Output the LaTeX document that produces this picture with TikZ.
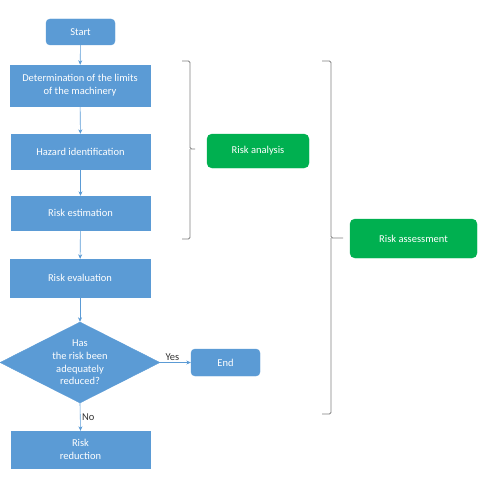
\documentclass[tikz,border=0pt]{standalone}
\usepackage{fontspec}
\setmainfont{Carlito}
\usepackage{tikz}
\usetikzlibrary{shapes.geometric,arrows.meta}

\definecolor{boxblue}{HTML}{5B9BD5}
\definecolor{boxgreen}{HTML}{00B050}
\definecolor{bracegray}{HTML}{7F7F7F}

\tikzset{
  stepbox/.style={draw=boxblue, fill=boxblue, text=white, align=center,
    inner sep=0pt, font=\fontsize{10.5}{12.7}\selectfont},
  endbox/.style={stepbox, rounded corners=4pt},
  groupbox/.style={draw=boxgreen, fill=boxgreen, text=white, align=center,
    rounded corners=5pt, inner sep=0pt, font=\fontsize{10.5}{12.7}\selectfont},
  decision/.style={stepbox, diamond, shape aspect=2},
  flow/.style={draw=boxblue, line width=0.6pt, -{Stealth[length=4.5pt,width=4pt]}},
  bracket/.style={draw=bracegray, line width=0.8pt, rounded corners=1.5pt},
  answer/.style={text=black!80, font=\fontsize{10.5}{12.7}\selectfont, inner sep=1.5pt}
}

\begin{document}
\begin{tikzpicture}[x=1pt,y=-1pt]
\useasboundingbox (0,0) rectangle (478,476);

\node[endbox, minimum width=69pt, minimum height=26pt] (start) at (80.5,32) {Start};
\node[stepbox, minimum width=140pt, minimum height=41pt] (limits) at (80,85.5) {Determination of the limits\\of the machinery};
\node[stepbox, minimum width=139pt, minimum height=35pt] (hazard) at (80.5,151.5) {Hazard identification};
\node[stepbox, minimum width=139pt, minimum height=34pt] (estim) at (80.5,213) {Risk estimation};
\node[stepbox, minimum width=140pt, minimum height=38pt] (evalu) at (80,278) {Risk evaluation};
\node[decision, minimum width=160pt, minimum height=81pt] (reduced) at (80,362.5) {Has\\the risk been\\adequately\\reduced?};
\node[endbox, minimum width=69pt, minimum height=27pt] (end) at (225.5,362.5) {End};
\node[stepbox, minimum width=139pt, minimum height=37pt] (reduct) at (80.5,449.5) {Risk\\reduction};

\node[groupbox, minimum width=102pt, minimum height=34pt] (analysis) at (258,151) {Risk analysis};
\node[groupbox, minimum width=127pt, minimum height=39pt] (assess) at (413.5,238.5) {Risk assessment};

\draw[flow] (start) -- (limits);
\draw[flow] (limits) -- (hazard);
\draw[flow] (hazard) -- (estim);
\draw[flow] (estim) -- (evalu);
\draw[flow] (evalu) -- (reduced);
\draw[flow] (reduced.east) -- node[answer, above, pos=0.4] {Yes} (end.west);
\draw[flow] (reduced.south) -- node[answer, right] {No} (reduct.north);

% braces
\draw[bracket] (182,61) -- (190,61) -- (190,149) -- (195,149) (190,149) -- (190,239) -- (182,239);
\draw[bracket] (322,61) -- (331,61) -- (331,238) -- (343,238) (331,238) -- (331,414) -- (322,414);
\end{tikzpicture}
\end{document}
